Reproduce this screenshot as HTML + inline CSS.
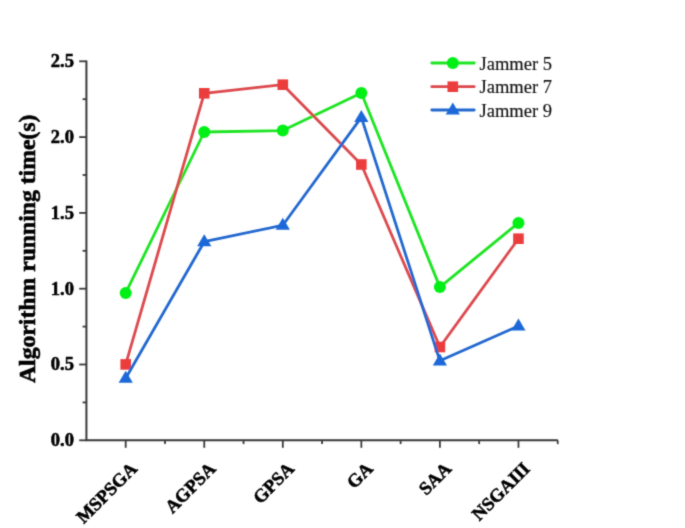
<!DOCTYPE html>
<html><head><meta charset="utf-8"><style>
html,body{margin:0;padding:0;background:#fff;}
body{width:685px;height:528px;overflow:hidden;}
svg{display:block;}

.tl{font-family:"Liberation Serif",serif;font-weight:bold;font-size:18.5px;fill:#000;stroke:#000;stroke-width:0.55px;}
.yt{font-family:"Liberation Serif",serif;font-weight:bold;font-size:23.7px;fill:#000;stroke:#000;stroke-width:0.6px;}
.lg{font-family:"Liberation Serif",serif;font-size:18.5px;fill:#111;stroke:#111;stroke-width:0.15px;}
</style></head><body>
<div id="w"><svg width="685" height="528" viewBox="0 0 685 528">
<defs><filter id="bl" x="-5%" y="-5%" width="110%" height="110%"><feConvolveMatrix order="3" kernelMatrix="0.0225 0.1050 0.0225 0.1050 0.4900 0.1050 0.0225 0.1050 0.0225" edgeMode="duplicate" preserveAlpha="false"/></filter></defs>
<rect width="685" height="528" fill="#fff"/>
<g filter="url(#bl)">
<path d="M86.4 60.4V440.3H557.9" fill="none" stroke="#3a3a3a" stroke-width="2"/>
<line x1="79.2" y1="440.30" x2="86.4" y2="440.30" stroke="#3a3a3a" stroke-width="1.8"/>
<line x1="82.60000000000001" y1="402.40" x2="86.4" y2="402.40" stroke="#3a3a3a" stroke-width="1.8"/>
<line x1="79.2" y1="364.50" x2="86.4" y2="364.50" stroke="#3a3a3a" stroke-width="1.8"/>
<line x1="82.60000000000001" y1="326.60" x2="86.4" y2="326.60" stroke="#3a3a3a" stroke-width="1.8"/>
<line x1="79.2" y1="288.70" x2="86.4" y2="288.70" stroke="#3a3a3a" stroke-width="1.8"/>
<line x1="82.60000000000001" y1="250.80" x2="86.4" y2="250.80" stroke="#3a3a3a" stroke-width="1.8"/>
<line x1="79.2" y1="212.90" x2="86.4" y2="212.90" stroke="#3a3a3a" stroke-width="1.8"/>
<line x1="82.60000000000001" y1="175.00" x2="86.4" y2="175.00" stroke="#3a3a3a" stroke-width="1.8"/>
<line x1="79.2" y1="137.10" x2="86.4" y2="137.10" stroke="#3a3a3a" stroke-width="1.8"/>
<line x1="82.60000000000001" y1="99.20" x2="86.4" y2="99.20" stroke="#3a3a3a" stroke-width="1.8"/>
<line x1="79.2" y1="61.30" x2="86.4" y2="61.30" stroke="#3a3a3a" stroke-width="1.8"/>
<text x="73.9" y="446.10" text-anchor="end" class="tl">0.0</text>
<text x="73.9" y="370.30" text-anchor="end" class="tl">0.5</text>
<text x="73.9" y="294.50" text-anchor="end" class="tl">1.0</text>
<text x="73.9" y="218.70" text-anchor="end" class="tl">1.5</text>
<text x="73.9" y="142.90" text-anchor="end" class="tl">2.0</text>
<text x="73.9" y="67.10" text-anchor="end" class="tl">2.5</text>
<line x1="125.70" y1="440.3" x2="125.70" y2="447.8" stroke="#3a3a3a" stroke-width="1.8"/>
<line x1="204.25" y1="440.3" x2="204.25" y2="447.8" stroke="#3a3a3a" stroke-width="1.8"/>
<line x1="282.80" y1="440.3" x2="282.80" y2="447.8" stroke="#3a3a3a" stroke-width="1.8"/>
<line x1="361.35" y1="440.3" x2="361.35" y2="447.8" stroke="#3a3a3a" stroke-width="1.8"/>
<line x1="439.90" y1="440.3" x2="439.90" y2="447.8" stroke="#3a3a3a" stroke-width="1.8"/>
<line x1="518.45" y1="440.3" x2="518.45" y2="447.8" stroke="#3a3a3a" stroke-width="1.8"/>
<line x1="164.97" y1="440.3" x2="164.97" y2="444.1" stroke="#3a3a3a" stroke-width="1.8"/>
<line x1="243.53" y1="440.3" x2="243.53" y2="444.1" stroke="#3a3a3a" stroke-width="1.8"/>
<line x1="322.07" y1="440.3" x2="322.07" y2="444.1" stroke="#3a3a3a" stroke-width="1.8"/>
<line x1="400.62" y1="440.3" x2="400.62" y2="444.1" stroke="#3a3a3a" stroke-width="1.8"/>
<line x1="479.17" y1="440.3" x2="479.17" y2="444.1" stroke="#3a3a3a" stroke-width="1.8"/>
<line x1="557.73" y1="440.3" x2="557.73" y2="444.1" stroke="#3a3a3a" stroke-width="1.8"/>
<text transform="translate(138.20,469.8) rotate(-45)" text-anchor="end" class="tl">MSPSGA</text>
<text transform="translate(216.75,469.8) rotate(-45)" text-anchor="end" class="tl">AGPSA</text>
<text transform="translate(295.30,469.8) rotate(-45)" text-anchor="end" class="tl">GPSA</text>
<text transform="translate(373.85,469.8) rotate(-45)" text-anchor="end" class="tl">GA</text>
<text transform="translate(452.40,469.8) rotate(-45)" text-anchor="end" class="tl">SAA</text>
<text transform="translate(530.95,469.8) rotate(-45)" text-anchor="end" class="tl">NSGAIII</text>
<text transform="translate(35.2,248.8) rotate(-90)" text-anchor="middle" class="yt">Algorithm running time(s)</text>
<polyline points="125.70,292.90 204.25,132.00 282.80,130.60 361.35,93.00 439.90,287.10 518.45,222.90" fill="none" stroke="#1ee423" stroke-width="2.8" stroke-linejoin="round"/>
<circle cx="125.70" cy="292.90" r="6" fill="#05f014"/>
<circle cx="204.25" cy="132.00" r="6" fill="#05f014"/>
<circle cx="282.80" cy="130.60" r="6" fill="#05f014"/>
<circle cx="361.35" cy="93.00" r="6" fill="#05f014"/>
<circle cx="439.90" cy="287.10" r="6" fill="#05f014"/>
<circle cx="518.45" cy="222.90" r="6" fill="#05f014"/>
<polyline points="125.70,364.40 204.25,93.30 282.80,84.70 361.35,164.50 439.90,347.00 518.45,238.70" fill="none" stroke="#dc484d" stroke-width="2.8" stroke-linejoin="round"/>
<rect x="120.40" y="359.10" width="10.6" height="10.6" fill="#ec3c3e"/>
<rect x="198.95" y="88.00" width="10.6" height="10.6" fill="#ec3c3e"/>
<rect x="277.50" y="79.40" width="10.6" height="10.6" fill="#ec3c3e"/>
<rect x="356.05" y="159.20" width="10.6" height="10.6" fill="#ec3c3e"/>
<rect x="434.60" y="341.70" width="10.6" height="10.6" fill="#ec3c3e"/>
<rect x="513.15" y="233.40" width="10.6" height="10.6" fill="#ec3c3e"/>
<polyline points="125.70,378.24 204.25,241.74 282.80,225.24 361.35,117.44 439.90,360.84 518.45,326.04" fill="none" stroke="#2368cf" stroke-width="2.8" stroke-linejoin="round"/>
<path d="M125.70 370.80L132.80 382.80H118.60Z" fill="#1a68d8"/>
<path d="M204.25 234.30L211.35 246.30H197.15Z" fill="#1a68d8"/>
<path d="M282.80 217.80L289.90 229.80H275.70Z" fill="#1a68d8"/>
<path d="M361.35 110.00L368.45 122.00H354.25Z" fill="#1a68d8"/>
<path d="M439.90 353.40L447.00 365.40H432.80Z" fill="#1a68d8"/>
<path d="M518.45 318.60L525.55 330.60H511.35Z" fill="#1a68d8"/>
<line x1="431.8" y1="63.0" x2="474.2" y2="63.0" stroke="#1ee423" stroke-width="2.8" stroke-linecap="round"/>
<circle cx="452.80" cy="63.00" r="6" fill="#05f014"/>
<text x="479.5" y="69.7" class="lg">Jammer 5</text>
<line x1="431.8" y1="86.7" x2="474.2" y2="86.7" stroke="#dc484d" stroke-width="2.8" stroke-linecap="round"/>
<rect x="447.50" y="81.40" width="10.6" height="10.6" fill="#ec3c3e"/>
<text x="479.5" y="93.4" class="lg">Jammer 7</text>
<line x1="431.8" y1="110.0" x2="474.2" y2="110.0" stroke="#2368cf" stroke-width="2.8" stroke-linecap="round"/>
<path d="M452.80 102.56L459.90 114.56H445.70Z" fill="#1a68d8"/>
<text x="479.5" y="116.7" class="lg">Jammer 9</text>
</g>
</svg></div>
</body></html>
